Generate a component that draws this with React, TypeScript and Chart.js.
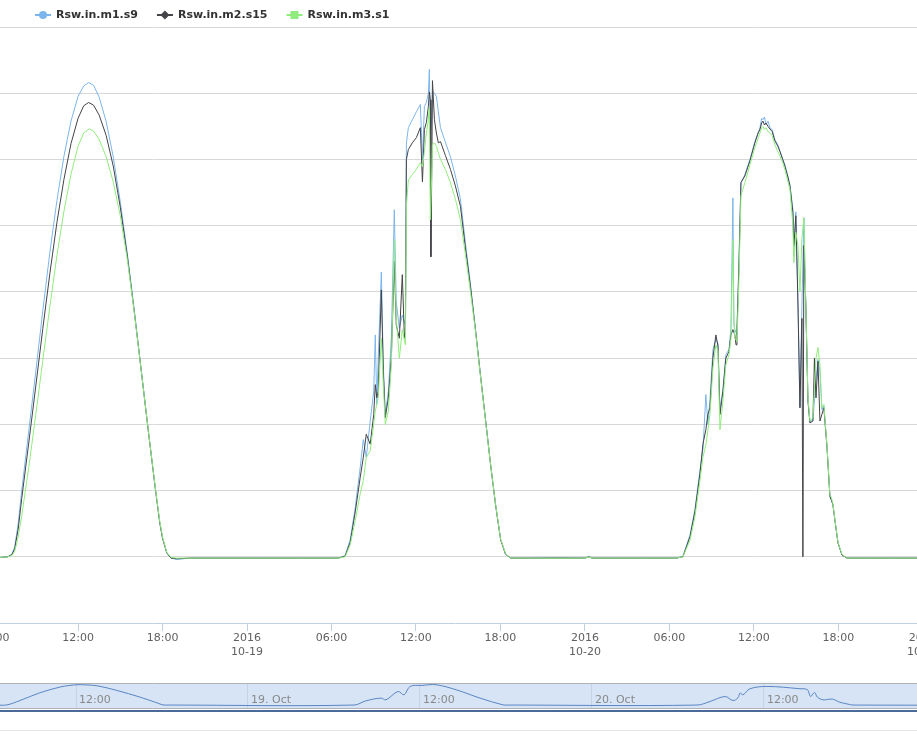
import React, { useEffect, useRef } from 'react';
import { Chart, registerables } from 'chart.js';

Chart.register(...registerables);

// ---------- data (hours since 2016-10-18 00:00, W/m²) ----------
const m1Hours = [6, 6.5, 7, 7.3, 7.5, 7.75, 8, 8.5, 9, 9.5, 10, 10.5, 11, 11.5, 12, 12.4, 12.75, 13.1, 13.5, 14, 14.5, 15, 15.5, 16, 16.5, 17, 17.5, 17.8, 18, 18.3, 18.6, 19, 19.5, 20, 22, 25, 28, 30.5,
  30.97, 31.33, 31.69, 32.04, 32.26, 32.47, 32.75, 33, 33.11, 33.22, 33.32, 33.54, 33.68, 33.82, 34.04, 34.25, 34.46, 34.6, 34.82, 35.03, 35.25, 35.32, 35.46, 35.74, 36.03, 36.31, 36.46, 36.6, 36.74, 36.88, 36.95, 37.02, 37.1, 37.17, 37.31, 37.45, 37.59, 37.74, 38.09, 38.45, 38.8, 39.16, 39.52, 39.87, 40.23, 40.58, 40.94, 41.3, 41.65, 42.01, 42.36, 42.72, 44, 46, 48, 48.3, 48.5, 50, 52, 54.5,
  54.96, 55.46, 55.81, 56.17, 56.38, 56.59, 56.73, 56.88, 57.09, 57.3, 57.45, 57.59, 57.8, 58.01, 58.23, 58.37, 58.51, 58.58, 58.65, 58.8, 58.94, 59.08, 59.36, 59.72, 60.07, 60.3, 60.43, 60.55, 60.64, 60.75, 60.86, 61, 61.14, 61.3, 61.49, 61.7, 61.85, 62.05, 62.2, 62.4, 62.56, 62.77, 62.84, 62.98, 63.13, 63.27, 63.41, 63.55, 63.69, 63.84, 63.98, 64.19, 64.41, 64.55, 64.69, 64.83, 64.97, 65.19, 65.4, 65.5, 65.61, 65.75, 65.97, 66.25, 66.61, 68, 70, 72, 75, 82];
const m1Values = [-1, -1, 0, 4, 15, 50, 100, 190, 280, 372, 460, 538, 605, 658, 695, 711, 716, 712, 694, 657, 604, 536, 458, 371, 280, 189, 101, 52, 28, 6, -2, -4, -3, -2, -2, -2, -2, -2,
  2, 26, 75, 135, 177, 150, 205, 250, 335, 230, 300, 430, 290, 215, 250, 330, 524, 385, 345, 365, 350, 625, 648, 660, 672, 683, 600, 680, 686, 700, 736, 640, 655, 702, 700, 695, 672, 648, 626, 604, 575, 540, 472, 411, 343, 275, 207, 139, 79, 26, 4, -2, -2, -1, -2, 1, -2, -2, -2, -2,
  1, 33, 71, 131, 162, 245, 200, 237, 313, 328, 322, 222, 252, 305, 313, 345, 542, 350, 343, 335, 449, 565, 577, 600, 627, 640, 648, 662, 660, 664, 653, 658, 648, 645, 630, 622, 613, 600, 592, 575, 562, 524, 455, 521, 388, 225, 380, 512, 370, 237, 204, 206, 267, 298, 280, 222, 228, 166, 91, 85, 79, 56, 21, 3, -2, -2, -2, -2, -2, -2];

const m2Hours = [6, 6.5, 7, 7.3, 7.5, 7.75, 8, 8.5, 9, 9.5, 10, 10.5, 11, 11.5, 12, 12.4, 12.75, 13.1, 13.5, 14, 14.5, 15, 15.5, 16, 16.5, 17, 17.5, 17.8, 18, 18.3, 18.6, 19, 20, 22, 25, 28, 30.5,
  30.97, 31.33, 31.69, 32.04, 32.26, 32.47, 32.75, 33, 33.11, 33.22, 33.32, 33.54, 33.68, 33.82, 34.04, 34.25, 34.46, 34.6, 34.82, 35.03, 35.18, 35.25, 35.32, 35.46, 35.74, 36.03, 36.31, 36.46, 36.6, 36.74, 36.88, 36.95, 37.02, 37.06, 37.13, 37.17, 37.24, 37.31, 37.45, 37.59, 37.74, 38.09, 38.45, 38.8, 39.16, 39.52, 39.87, 40.23, 40.58, 40.94, 41.3, 41.65, 42.01, 42.36, 42.72, 44, 46, 48, 48.3, 48.5, 50, 52, 54.5,
  54.96, 55.46, 55.81, 56.17, 56.38, 56.59, 56.73, 56.88, 57.09, 57.3, 57.45, 57.59, 57.8, 58.01, 58.23, 58.37, 58.51, 58.65, 58.73, 58.8, 58.94, 59.08, 59.36, 59.72, 60.07, 60.3, 60.43, 60.55, 60.64, 60.75, 60.86, 61, 61.14, 61.3, 61.49, 61.7, 61.85, 62.05, 62.2, 62.4, 62.56, 62.77, 62.84, 62.98, 63.13, 63.27, 63.41, 63.48, 63.55, 63.69, 63.84, 63.98, 64.19, 64.3, 64.41, 64.55, 64.69, 64.83, 64.97, 65.19, 65.4, 65.5, 65.61, 65.75, 65.97, 66.25, 66.61, 68, 70, 72, 75, 82];
const m2Values = [-1, -1, 0, 3, 12, 42, 88, 172, 258, 345, 428, 505, 570, 624, 662, 681, 686, 682, 667, 636, 590, 528, 454, 369, 279, 188, 101, 52, 28, 6, -2, -3, -2, -2, -2, -2, -2,
  1, 22, 68, 120, 150, 185, 170, 215, 260, 240, 250, 403, 280, 210, 240, 300, 446, 350, 330, 426, 330, 340, 600, 615, 625, 633, 648, 566, 645, 656, 680, 702, 690, 453, 600, 719, 690, 660, 640, 625, 627, 606, 585, 560, 529, 465, 408, 342, 274, 207, 139, 79, 26, 4, -2, -2, -2, -2, 0, -2, -2, -2, -2,
  0, 30, 68, 125, 170, 192, 215, 225, 300, 335, 318, 215, 250, 300, 310, 335, 343, 335, 320, 345, 440, 565, 575, 598, 625, 640, 645, 655, 658, 652, 655, 650, 646, 642, 628, 620, 612, 600, 590, 575, 560, 520, 470, 515, 380, 225, 360, 0, 470, 380, 235, 202, 205, 300, 240, 295, 205, 215, 225, 166, 91, 86, 79, 56, 21, 3, -2, -2, -2, -2, -2, -2];

const m3Hours = [6, 6.5, 7, 7.3, 7.5, 7.75, 8, 8.5, 9, 9.5, 10, 10.5, 11, 11.5, 12, 12.4, 12.8, 13.1, 13.5, 14, 14.5, 15, 15.5, 16, 16.5, 17, 17.5, 17.8, 18, 18.3, 18.6, 19, 20, 22, 25, 28, 30.5,
  30.97, 31.33, 31.69, 32.04, 32.26, 32.47, 32.75, 33, 33.11, 33.22, 33.32, 33.54, 33.68, 33.82, 34.04, 34.25, 34.46, 34.6, 34.82, 35.03, 35.25, 35.32, 35.46, 35.74, 36.03, 36.31, 36.46, 36.6, 36.74, 36.88, 36.95, 37.02, 37.1, 37.17, 37.31, 37.45, 37.59, 37.74, 38.09, 38.45, 38.8, 39.16, 39.52, 39.87, 40.23, 40.58, 40.94, 41.3, 41.65, 42.01, 42.36, 42.72, 44, 46, 48, 48.3, 48.5, 50, 52, 54.5,
  54.96, 55.46, 55.81, 56.17, 56.38, 56.59, 56.73, 56.88, 57.09, 57.3, 57.45, 57.59, 57.8, 58.01, 58.23, 58.37, 58.51, 58.58, 58.65, 58.8, 58.94, 59.08, 59.36, 59.72, 60.07, 60.3, 60.43, 60.55, 60.64, 60.75, 60.86, 61, 61.14, 61.3, 61.49, 61.7, 61.85, 62.05, 62.2, 62.4, 62.56, 62.77, 62.84, 62.98, 63.13, 63.27, 63.41, 63.55, 63.69, 63.84, 63.98, 64.19, 64.41, 64.55, 64.69, 64.83, 64.97, 65.19, 65.4, 65.5, 65.61, 65.75, 65.97, 66.25, 66.61, 68, 70, 72, 75, 82];
const m3Values = [-1, -1, 0, 2, 8, 30, 62, 135, 215, 297, 378, 455, 522, 578, 620, 640, 646, 643, 630, 604, 566, 515, 449, 368, 279, 189, 102, 54, 30, 7, -1, -2, -2, -2, -2, -2, -2,
  0, 18, 55, 95, 115, 150, 160, 200, 220, 230, 240, 330, 260, 200, 220, 290, 479, 360, 300, 343, 320, 530, 569, 577, 585, 595, 589, 612, 640, 660, 678, 509, 560, 622, 625, 620, 610, 600, 585, 565, 540, 509, 455, 400, 340, 273, 206, 139, 80, 27, 5, -2, -2, -2, -2, 0, -2, -2, -2, -2,
  0, 25, 60, 115, 150, 169, 190, 215, 285, 320, 310, 192, 235, 290, 305, 330, 479, 360, 330, 325, 420, 545, 565, 592, 618, 632, 640, 648, 650, 645, 648, 642, 640, 636, 622, 612, 605, 595, 585, 568, 555, 500, 444, 490, 470, 400, 480, 512, 380, 240, 205, 210, 300, 316, 290, 225, 230, 168, 93, 90, 80, 57, 22, 4, -2, -2, -2, -2, -2, -2];

// navigator (grouped/smoothed first series)
const navHours = [-4, 6.5, 7.18, 8.09, 9.48, 10.88, 11.5, 12.07, 12.7, 13.46, 14.86, 16.46, 17.65, 18.07, 18.5,
  31.4, 32.23, 33.28, 33.63, 34.47, 34.89, 35.31, 36.14, 37.12, 38.52, 40.19, 41.8, 42.2,
  55.33, 56.24, 57.29, 57.84, 58.19, 58.33, 58.54, 59.03, 60.22, 62.52, 63.04, 63.25, 63.53, 63.73, 64.13, 64.78, 65.27, 65.87, 66.22, 82];
const navValues = [0, 0, 5, 160, 434, 637, 690, 719, 712, 683, 516, 281, 78, 5, 0,
  0, 149, 246, 185, 480, 363, 658, 694, 719, 541, 246, 5, 0,
  0, 125, 302, 160, 256, 423, 363, 577, 658, 577, 541, 302, 445, 281, 185, 210, 103, 32, 0, 0];

const xTickHours = [0, 6, 12, 18, 24, 30, 36, 42, 48, 54, 60, 66, 72, 78];
const yTickValues = [-100, 0, 100, 200, 300, 400, 500, 600, 700, 800];
const navTickHours = [0, 12, 24, 36, 48, 60, 72];
const navTickLabels = ['18. Oct', '12:00', '19. Oct', '12:00', '20. Oct', '12:00', '21. Oct'];
const seriesNames = ['Rsw.in.m1.s9', 'Rsw.in.m2.s15', 'Rsw.in.m3.s1'];
const seriesColors = ['#7cb5ec', '#434348', '#90ed7d'];

const FONT = '"DejaVu Sans", sans-serif';
const CANVAS_LEFT = -150;
const CANVAS_W = 1210;
const MAIN_H = 680;
const NAV_H = 26;

const toPoints = (hs: number[], vs: number[]) => hs.map((h, i) => ({ x: h, y: vs[i] }));

function xLabel(h: number): string | string[] {
  const d = ((h % 24) + 24) % 24;
  if (d === 0) return ['2016', '10-' + String(18 + h / 24)];
  return String(d).padStart(2, '0') + ':00';
}

const legendPlugin = {
  id: 'hcLegend',
  afterDraw(chart: any) {
    const ctx = chart.ctx as CanvasRenderingContext2D;
    ctx.save();
    ctx.font = 'bold 11px ' + FONT;
    ctx.textBaseline = 'middle';
    let x = 35 - CANVAS_LEFT;
    const y = 15;
    seriesNames.forEach((name, i) => {
      const c = seriesColors[i];
      ctx.strokeStyle = c;
      ctx.fillStyle = c;
      ctx.lineWidth = 2;
      ctx.beginPath();
      ctx.moveTo(x, y);
      ctx.lineTo(x + 16, y);
      ctx.stroke();
      const cx = x + 8;
      ctx.beginPath();
      if (i === 0) {
        ctx.arc(cx, y, 4, 0, Math.PI * 2);
      } else if (i === 1) {
        ctx.moveTo(cx, y - 4.5);
        ctx.lineTo(cx + 4.5, y);
        ctx.lineTo(cx, y + 4.5);
        ctx.lineTo(cx - 4.5, y);
        ctx.closePath();
      } else {
        ctx.rect(cx - 4, y - 4, 8, 8);
      }
      ctx.fill();
      ctx.fillStyle = '#333333';
      ctx.fillText(name, x + 21, y + 0.5);
      x += 21 + ctx.measureText(name).width + 19;
    });
    ctx.restore();
  },
};

const navBandPlugin = {
  id: 'navBand',
  beforeDraw(chart: any) {
    const ctx = chart.ctx as CanvasRenderingContext2D;
    ctx.save();
    ctx.fillStyle = '#d6e4f5';
    ctx.fillRect(0, 0, chart.width, chart.height);
    ctx.restore();
  },
  beforeDatasetsDraw(chart: any) {
    const ctx = chart.ctx as CanvasRenderingContext2D;
    const xs = chart.scales.x;
    ctx.save();
    ctx.font = '11px ' + FONT;
    ctx.fillStyle = '#888888';
    ctx.textBaseline = 'middle';
    navTickHours.forEach((h, i) => {
      const px = xs.getPixelForValue(h);
      ctx.fillText(navTickLabels[i], px + 3, 17);
    });
    ctx.restore();
  },
  afterDraw(chart: any) {
    const ctx = chart.ctx as CanvasRenderingContext2D;
    ctx.save();
    ctx.strokeStyle = '#b2b1b6';
    ctx.lineWidth = 1;
    ctx.beginPath();
    ctx.moveTo(0, 0.5);
    ctx.lineTo(chart.width, 0.5);
    ctx.moveTo(0, chart.height - 0.5);
    ctx.lineTo(chart.width, chart.height - 0.5);
    ctx.stroke();
    ctx.restore();
  },
};

export default function App() {
  const mainRef = useRef<HTMLCanvasElement>(null);
  const navRef = useRef<HTMLCanvasElement>(null);

  useEffect(() => {
    const main = new Chart(mainRef.current as HTMLCanvasElement, {
      type: 'line',
      data: {
        datasets: [
          { label: seriesNames[0], data: toPoints(m1Hours, m1Values), borderColor: seriesColors[0], borderWidth: 1, pointRadius: 0, tension: 0, fill: false, order: 2 },
          { label: seriesNames[1], data: toPoints(m2Hours, m2Values), borderColor: seriesColors[1], borderWidth: 1, pointRadius: 0, tension: 0, fill: false, order: 1 },
          { label: seriesNames[2], data: toPoints(m3Hours, m3Values), borderColor: seriesColors[2], borderWidth: 1, pointRadius: 0, tension: 0, fill: false, order: 0 },
        ],
      },
      options: {
        responsive: false,
        animation: false,
        events: [],
        layout: { padding: { top: 27, left: 0, right: 0, bottom: 0 } },
        plugins: { legend: { display: false }, tooltip: { enabled: false } },
        scales: {
          x: {
            type: 'linear',
            min: -4.196,
            max: 81.74,
            afterBuildTicks: (s: any) => { s.ticks = xTickHours.map((v) => ({ value: v })); },
            afterFit: (s: any) => { s.height = MAIN_H - 623; },
            grid: { drawOnChartArea: false, drawTicks: true, tickLength: 8, color: '#c0d0e0' },
            border: { display: true, color: '#c0d0e0' },
            ticks: {
              autoSkip: false,
              maxRotation: 0,
              padding: 1,
              color: '#606060',
              font: { family: FONT, size: 11 },
              callback: (v: any) => xLabel(Number(v)),
            },
          },
          y: {
            min: -100,
            max: 800,
            afterBuildTicks: (s: any) => { s.ticks = yTickValues.map((v) => ({ value: v })); },
            afterFit: (s: any) => { s.width = 0; },
            ticks: { display: false },
            grid: {
              drawTicks: false,
              color: (ctx: any) => (ctx.tick && ctx.tick.value === -100 ? 'rgba(0,0,0,0)' : '#d8d8d8'),
            },
            border: { display: false },
          },
        },
      } as any,
      plugins: [legendPlugin],
    });

    const nav = new Chart(navRef.current as HTMLCanvasElement, {
      type: 'line',
      data: {
        datasets: [
          { data: toPoints(navHours, navValues), borderColor: '#5b86c5', borderWidth: 1, pointRadius: 0, tension: 0.35, fill: false },
        ],
      },
      options: {
        responsive: false,
        animation: false,
        events: [],
        layout: { padding: 0 },
        plugins: { legend: { display: false }, tooltip: { enabled: false } },
        scales: {
          x: {
            type: 'linear',
            min: -3.77,
            max: 80.66,
            afterBuildTicks: (s: any) => { s.ticks = navTickHours.map((v) => ({ value: v })); },
            afterFit: (s: any) => { s.height = 0; },
            ticks: { display: false },
            grid: { drawTicks: false, color: '#c4d3e7' },
            border: { display: false },
          },
          y: {
            min: -140,
            max: 780,
            afterFit: (s: any) => { s.width = 0; },
            ticks: { display: false },
            grid: { display: false, drawTicks: false },
            border: { display: false },
          },
        },
      } as any,
      plugins: [navBandPlugin],
    });

    return () => {
      main.destroy();
      nav.destroy();
    };
  }, []);

  return (
    <div style={{ position: 'fixed', left: 0, top: 0, width: 917, height: 737, overflow: 'hidden', background: '#ffffff' }}>
      <div style={{ position: 'absolute', left: CANVAS_LEFT, top: 0, width: CANVAS_W, height: MAIN_H }}>
        <canvas ref={mainRef} width={CANVAS_W} height={MAIN_H} style={{ display: 'block' }} />
      </div>
      <div style={{ position: 'absolute', left: CANVAS_LEFT, top: 683, width: CANVAS_W, height: NAV_H }}>
        <canvas ref={navRef} width={CANVAS_W} height={NAV_H} style={{ display: 'block' }} />
      </div>
      <div style={{ position: 'absolute', left: 0, top: 710, width: 917, height: 2, background: '#4a6a99' }} />
      <div style={{ position: 'absolute', left: 0, top: 730, width: 917, height: 1, background: '#e6e6e6' }} />
    </div>
  );
}
